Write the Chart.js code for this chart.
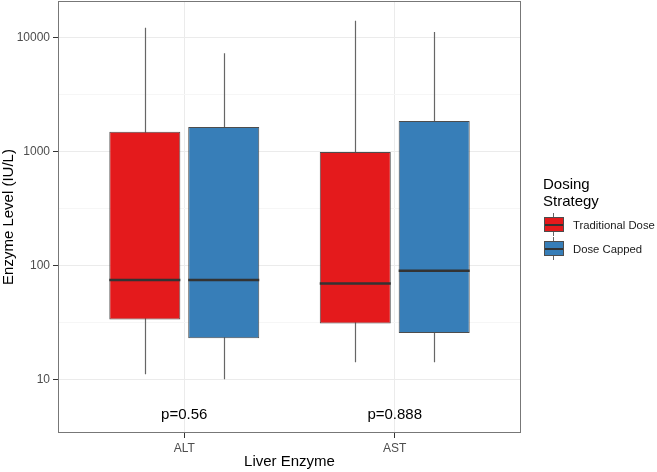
<!DOCTYPE html>
<html><head><meta charset="utf-8">
<script src="https://cdn.jsdelivr.net/npm/chart.js@4.4.0/dist/chart.umd.min.js"></script>
<style>
html,body{margin:0;padding:0;background:#fff;}
#wrap{position:relative;width:657px;height:472px;font-family:"Liberation Sans",Arial,sans-serif;}
#c{position:absolute;left:0;top:0;}
.lt{position:absolute;font-size:15px;line-height:17px;color:#000;white-space:nowrap;}
.lk{position:absolute;width:18px;height:13px;border:1px solid #4d4d4d;}
.lk .st{position:absolute;left:8px;width:1px;height:4px;background:#666;}
.lk .md{position:absolute;left:0;width:18px;top:5.5px;height:2px;background:#333;}
.ll{position:absolute;font-size:11.3px;line-height:14px;color:#1a1a1a;white-space:nowrap;}
</style>
</head><body>
<div id="wrap">
<canvas id="c" width="657" height="472"></canvas>
<div class="lt" style="left:543px;top:175px;">Dosing<br>Strategy</div>
<div class="lk" style="left:544px;top:217px;background:#E41A1C;"><div class="st" style="top:-5px"></div><div class="md"></div><div class="st" style="top:14px"></div></div>
<div class="ll" style="left:573px;top:218px;">Traditional Dose</div>
<div class="lk" style="left:544px;top:241px;background:#377EB8;"><div class="st" style="top:-5px"></div><div class="md"></div><div class="st" style="top:14px"></div></div>
<div class="ll" style="left:573px;top:242px;">Dose Capped</div>
</div>
<script>
const categories = ['ALT', 'AST'];
const seriesNames = ['Traditional Dose', 'Dose Capped'];
const tradMin = [11.1, 14.1];
const tradQ1 = [33.6, 31];
const tradMedian = [74.5, 69.5];
const tradQ3 = [1490, 993];
const tradMax = [12200, 14100];
const capMin = [10, 14.1];
const capQ1 = [22.9, 25.5];
const capMedian = [74.5, 90];
const capQ3 = [1640, 1860];
const capMax = [7300, 11200];
const pValues = ['p=0.56', 'p=0.888'];
const yTicks = [10, 100, 1000, 10000];
const yMinor = yTicks.slice(0, -1).map((v, i) => Math.sqrt(v * yTicks[i + 1]));

const boxPlugin = {
  id: 'boxextras',
  beforeDatasetsDraw(chart) {
    const ctx = chart.ctx, y = chart.scales.y;
    chart.data.datasets.forEach((ds, d) => {
      const meta = chart.getDatasetMeta(d);
      meta.data.forEach((bar, i) => {
        ctx.save();
        ctx.strokeStyle = '#666';
        ctx.lineWidth = 1.2;
        ctx.beginPath();
        const x = Math.round(bar.x) + 0.5;
        ctx.moveTo(x, y.getPixelForValue(ds.stats.min[i]));
        ctx.lineTo(x, y.getPixelForValue(ds.stats.max[i]));
        ctx.stroke();
        ctx.restore();
      });
    });
  },
  afterDatasetsDraw(chart) {
    const ctx = chart.ctx, y = chart.scales.y, x = chart.scales.x, a = chart.chartArea;
    chart.data.datasets.forEach((ds, d) => {
      const meta = chart.getDatasetMeta(d);
      meta.data.forEach((bar, i) => {
        const py = y.getPixelForValue(ds.stats.med[i]);
        ctx.save();
        ctx.strokeStyle = '#333';
        ctx.lineWidth = 2.6;
        ctx.beginPath();
        ctx.moveTo(bar.x - bar.width / 2, py);
        ctx.lineTo(bar.x + bar.width / 2, py);
        ctx.stroke();
        ctx.restore();
      });
    });
    ctx.save();
    ctx.fillStyle = '#000';
    ctx.font = '15px "Liberation Sans", Arial, sans-serif';
    ctx.textAlign = 'center';
    ctx.textBaseline = 'middle';
    pValues.forEach((p, i) => {
      ctx.fillText(p, x.getPixelForValue(i + 1), a.bottom - 18);
    });
    ctx.restore();
  },
  afterDraw(chart) {
    const ctx = chart.ctx, a = chart.chartArea;
    ctx.save();
    ctx.strokeStyle = '#777';
    ctx.lineWidth = 1;
    ctx.strokeRect(a.left + 0.5, a.top + 0.5, a.right - a.left - 1, a.bottom - a.top - 1);
    ctx.restore();
  }
};

new Chart(document.getElementById('c'), {
  type: 'bar',
  data: {
    datasets: [
      {
        label: seriesNames[0],
        data: categories.map((c, i) => ({ x: i + 1, y: [tradQ1[i], tradQ3[i]] })),
        backgroundColor: '#E41A1C', borderColor: '#4d4d4d', borderWidth: 1, borderSkipped: false,
        categoryPercentage: 0.75, barPercentage: 0.9,
        stats: { min: tradMin, med: tradMedian, max: tradMax }
      },
      {
        label: seriesNames[1],
        data: categories.map((c, i) => ({ x: i + 1, y: [capQ1[i], capQ3[i]] })),
        backgroundColor: '#377EB8', borderColor: '#4d4d4d', borderWidth: 1, borderSkipped: false,
        categoryPercentage: 0.75, barPercentage: 0.9,
        stats: { min: capMin, med: capMedian, max: capMax }
      }
    ]
  },
  options: {
    responsive: false, animation: false, devicePixelRatio: 1,
    layout: { padding: { left: 0, top: 1, right: 136, bottom: 0 } },
    plugins: { legend: { display: false }, tooltip: { enabled: false } },
    scales: {
      x: {
        type: 'linear', min: 0.4, max: 2.6, offset: false,
        afterBuildTicks: s => { s.ticks = categories.map((c, i) => ({ value: i + 1 })); },
        ticks: { callback: v => categories[v - 1] || '', color: '#4d4d4d', font: { size: 12, family: '"Liberation Sans", Arial, sans-serif' }, padding: 3, autoSkip: false, maxRotation: 0 },
        grid: { offset: false, color: '#ebebeb', tickColor: '#333', tickLength: 5, lineWidth: 1 },
        border: { display: false },
        title: { display: true, text: 'Liver Enzyme', color: '#000', font: { size: 15, family: '"Liberation Sans", Arial, sans-serif' }, padding: { top: 0, bottom: 1 } },
        afterFit: s => { s.height = 39; s.paddingLeft = 0; s.paddingRight = 0; }
      },
      y: {
        type: 'logarithmic', min: 3.38, max: 21000,
        afterBuildTicks: s => { s.ticks = yTicks.concat(yMinor).sort((a, b) => a - b).map(v => ({ value: v })); },
        ticks: { callback: v => yTicks.includes(v) ? String(v) : '', color: '#4d4d4d', font: { size: 12, family: '"Liberation Sans", Arial, sans-serif' }, padding: 3, autoSkip: false },
        grid: {
          color: c => (c.tick && yTicks.includes(c.tick.value)) ? '#ebebeb' : '#f6f6f6',
          tickColor: c => (c.tick && yTicks.includes(c.tick.value)) ? '#333' : 'rgba(0,0,0,0)',
          tickLength: 5, lineWidth: 1
        },
        border: { display: false },
        title: { display: true, text: 'Enzyme Level (IU/L)', color: '#000', font: { size: 15, family: '"Liberation Sans", Arial, sans-serif' }, padding: { top: 0, bottom: 0 } },
        afterFit: s => { s.width = 58; s.paddingTop = 0; s.paddingBottom = 0; }
      }
    }
  },
  plugins: [boxPlugin]
});
</script>
</body></html>
